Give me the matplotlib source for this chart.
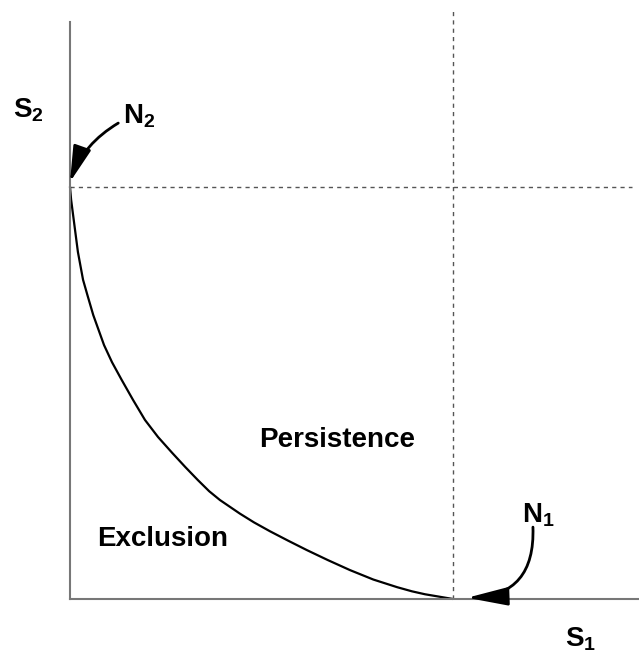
import matplotlib
matplotlib.use("Agg")
import matplotlib.pyplot as plt

plt.rcParams['font.family'] = ['Liberation Sans', 'DejaVu Sans']
plt.rcParams['mathtext.fontset'] = 'custom'
plt.rcParams['mathtext.rm'] = 'Liberation Sans'
plt.rcParams['mathtext.bf'] = 'Liberation Sans:bold'

# --- data (axes run 0..10) ---
N1 = 6.74   # supply point of resource 1
N2 = 7.0    # supply point of resource 2
curve_x = [0.0, 0.02, 0.09, 0.14, 0.23, 0.31, 0.41, 0.60, 0.74, 0.91,
           1.11, 1.32, 1.55, 1.80, 2.03, 2.25, 2.45, 2.64, 2.99, 3.24,
           3.52, 3.84, 4.17, 4.54, 4.93, 5.34, 5.76, 6.02, 6.25, 6.74]
curve_y = [7.0, 6.78, 6.26, 5.89, 5.42, 5.15, 4.82, 4.31, 4.02, 3.72,
           3.38, 3.04, 2.75, 2.48, 2.24, 2.02, 1.83, 1.68, 1.45, 1.30,
           1.15, 0.99, 0.83, 0.66, 0.49, 0.33, 0.20, 0.13, 0.08, 0.0]
region_labels = ['Persistence', 'Exclusion']

fig = plt.figure(figsize=(6.39, 6.62), dpi=100)
ax = fig.add_axes([0.1095, 0.0952, 0.889, 0.8897])
ax.set_xlim(0, 10)
ax.set_ylim(0, 10)

# axes: only left and bottom, gray
for side in ['top', 'right']:
    ax.spines[side].set_visible(False)
for side in ['left', 'bottom']:
    ax.spines[side].set_color('#777777')
    ax.spines[side].set_linewidth(1.5)
ax.spines['left'].set_bounds(0, 9.8)
ax.set_xticks([])
ax.set_yticks([])

# dashed supply lines
ax.plot([N1, N1], [0, 10], ls=(0, (3, 3)), color='#555555', lw=1, clip_on=False)
ax.plot([0, 9.9], [N2, N2], ls=(0, (3, 3)), color='#555555', lw=1, clip_on=False)

# boundary curve
ax.plot(curve_x, curve_y, color='black', lw=1.6, clip_on=False,
        solid_joinstyle='round', solid_capstyle='round')

# region labels
bold = dict(fontsize=20, fontweight='bold', ha='left', va='baseline')
ax.text(3.33, 2.58, region_labels[0], **bold)
ax.text(0.48, 0.90, region_labels[1], **bold)

# axis and supply labels
lab = dict(fontsize=20, ha='left', va='baseline', clip_on=False)
ax.text(-1.0, 8.18, r'$\mathbf{S}_\mathbf{2}$', **lab)
ax.text(8.71, -0.81, r'$\mathbf{S}_\mathbf{1}$', **lab)
ax.text(0.93, 8.08, r'$\mathbf{N}_\mathbf{2}$', **lab)
ax.text(7.96, 1.31, r'$\mathbf{N}_\mathbf{1}$', **lab)

# curved arrows
ax.annotate('', xy=(0.0, 7.08), xytext=(0.85, 8.08),
            arrowprops=dict(arrowstyle='-|>,head_length=1.1,head_width=0.28',
                            connectionstyle='arc3,rad=0.18', color='black',
                            lw=2, shrinkA=0, shrinkB=0, mutation_scale=20),
            annotation_clip=False)
ax.annotate('', xy=(6.99, 0.02), xytext=(8.15, 1.22),
            arrowprops=dict(arrowstyle='-|>,head_length=1.25,head_width=0.28',
                            connectionstyle='arc3,rad=-0.5', color='black',
                            lw=2, shrinkA=0, shrinkB=0, mutation_scale=20),
            annotation_clip=False)

fig.savefig('out.png', dpi=100)
